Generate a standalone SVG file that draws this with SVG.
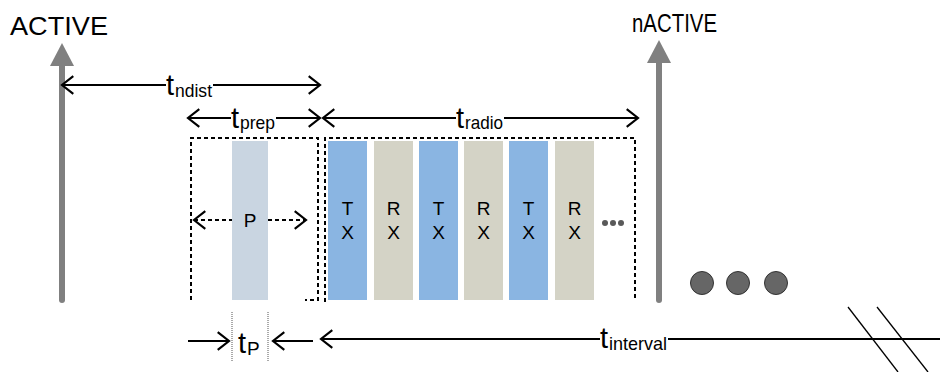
<svg xmlns="http://www.w3.org/2000/svg" width="940" height="372" viewBox="0 0 940 372">
<style>
.lbl{font-family:"Liberation Sans",Arial,sans-serif;fill:#000}
.big{font-size:26px}
.tm{font-size:29px}
.sub{font-size:19px}
.box{font-size:19px}
.ln{stroke:#000;stroke-width:2.2;fill:none}
.dash{stroke:#000;stroke-width:2;fill:none;stroke-dasharray:4 3}
.tx{fill:#8ab5e2}
.rx{fill:#d4d3c6}
.gray{stroke:#808080;stroke-width:6;stroke-linecap:round;fill:none}
.dot{stroke:#555;stroke-width:1;stroke-dasharray:1 1;fill:none}
</style>
<defs>
<marker id="ah" markerUnits="userSpaceOnUse" markerWidth="16" markerHeight="24" viewBox="-15 -12 17 24" refX="0" refY="0" orient="auto-start-reverse">
<path d="M-12,-9.5 L0,0 L-12,9.5" fill="none" stroke="#000" stroke-width="2.3"/>
</marker>
</defs>

<g id="active">
<line class="gray" x1="62" y1="300" x2="62" y2="64"/>
<polygon points="50,66 62,43 74,66" fill="#808080"/>
<text class="lbl big" x="10" y="35" textLength="98" lengthAdjust="spacingAndGlyphs">ACTIVE</text>
</g>
<g id="nactive">
<line class="gray" x1="659" y1="300" x2="659" y2="61"/>
<polygon points="647,63 659,40 671,63" fill="#808080"/>
<text class="lbl big" x="632" y="32" textLength="85" lengthAdjust="spacingAndGlyphs">nACTIVE</text>
</g>

<g id="prep-box">
<path class="dash" d="M191,300 V138 H318 V300 H305"/>
<g id="p-arrow">
<line class="dash" x1="194" y1="220" x2="232" y2="220" marker-start="url(#ah)"/>
<line class="dash" x1="268" y1="220" x2="306" y2="220" marker-end="url(#ah)"/>
</g>
<rect x="232" y="141" width="36" height="159" fill="#c9d5e1"/>
<text class="lbl box" x="250" y="227" text-anchor="middle">P</text>
</g>

<g id="radio-box">
<path class="dash" d="M325,302 V138 H635 V298"/>
</g>
<g id="tx1"><rect class="tx" x="328" y="141" width="39" height="159"/><text class="lbl box" x="347.5" y="215" text-anchor="middle">T</text><text class="lbl box" x="347.5" y="239" text-anchor="middle">X</text></g>
<g id="rx1"><rect class="rx" x="374" y="141" width="39" height="159"/><text class="lbl box" x="393.5" y="215" text-anchor="middle">R</text><text class="lbl box" x="393.5" y="239" text-anchor="middle">X</text></g>
<g id="tx2"><rect class="tx" x="419" y="141" width="39" height="159"/><text class="lbl box" x="438.5" y="215" text-anchor="middle">T</text><text class="lbl box" x="438.5" y="239" text-anchor="middle">X</text></g>
<g id="rx2"><rect class="rx" x="464" y="141" width="39" height="159"/><text class="lbl box" x="483.5" y="215" text-anchor="middle">R</text><text class="lbl box" x="483.5" y="239" text-anchor="middle">X</text></g>
<g id="tx3"><rect class="tx" x="509" y="141" width="39" height="159"/><text class="lbl box" x="528.5" y="215" text-anchor="middle">T</text><text class="lbl box" x="528.5" y="239" text-anchor="middle">X</text></g>
<g id="rx3"><rect class="rx" x="555" y="141" width="39" height="159"/><text class="lbl box" x="574.5" y="215" text-anchor="middle">R</text><text class="lbl box" x="574.5" y="239" text-anchor="middle">X</text></g>
<g id="small-dots" fill="#595959"><circle cx="605" cy="223" r="3"/><circle cx="613" cy="223" r="3"/><circle cx="621" cy="223" r="3"/></g>
<g id="big-dots" fill="#666" stroke="#333" stroke-width="1"><circle cx="702" cy="283" r="11.5"/><circle cx="738" cy="283" r="11.5"/><circle cx="776" cy="283" r="11.5"/></g>

<g id="connectors">
<line class="ln" x1="62" y1="85" x2="166" y2="85" marker-start="url(#ah)"/>
<line class="ln" x1="213" y1="85" x2="320" y2="85" marker-end="url(#ah)"/>
<line class="ln" x1="188" y1="118" x2="231" y2="118" marker-start="url(#ah)"/>
<line class="ln" x1="276" y1="118" x2="320" y2="118" marker-end="url(#ah)"/>
<line class="ln" x1="323" y1="118" x2="456" y2="118" marker-start="url(#ah)"/>
<line class="ln" x1="504" y1="118" x2="638" y2="118" marker-end="url(#ah)"/>
<line class="ln" x1="188" y1="341" x2="229" y2="341" marker-end="url(#ah)"/>
<line class="ln" x1="313" y1="341" x2="273" y2="341" marker-end="url(#ah)"/>
<line class="ln" x1="600" y1="339" x2="321" y2="339" marker-end="url(#ah)"/>
<line class="ln" x1="668" y1="339" x2="940" y2="339" stroke-width="2.5"/>
<line class="dot" x1="232" y1="312" x2="232" y2="362"/>
<line class="dot" x1="268" y1="312" x2="268" y2="362"/>
<line x1="848" y1="307" x2="898" y2="372" stroke="#000" stroke-width="1.3"/>
<line x1="877" y1="307" x2="928" y2="372" stroke="#000" stroke-width="1.3"/>
</g>

<g id="labels">
<text class="lbl"><tspan class="tm" x="166" y="95">t</tspan><tspan class="sub" x="175" y="97" textLength="37" lengthAdjust="spacingAndGlyphs">ndist</tspan></text>
<text class="lbl"><tspan class="tm" x="231" y="128">t</tspan><tspan class="sub" x="240" y="129" textLength="35" lengthAdjust="spacingAndGlyphs">prep</tspan></text>
<text class="lbl"><tspan class="tm" x="456" y="128">t</tspan><tspan class="sub" x="465" y="129" textLength="38" lengthAdjust="spacingAndGlyphs">radio</tspan></text>
<text class="lbl"><tspan class="tm" x="600" y="348">t</tspan><tspan class="sub" x="609" y="350" textLength="58" lengthAdjust="spacingAndGlyphs">interval</tspan></text>
<text class="lbl"><tspan class="tm" x="238" y="353">t</tspan><tspan class="sub" x="247" y="355" font-size="15">P</tspan></text>
</g>
</svg>
